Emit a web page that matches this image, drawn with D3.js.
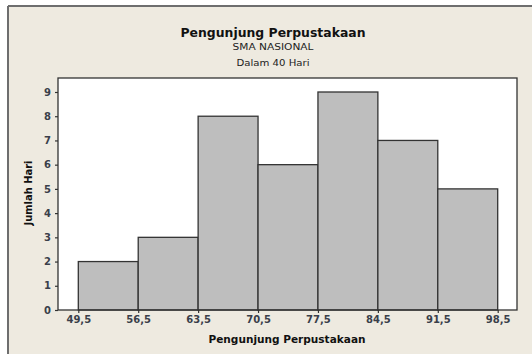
<!DOCTYPE html>
<html><head><meta charset="utf-8">
<script src="https://cdn.jsdelivr.net/npm/d3@7"></script>
<style>body{margin:0;background:#fff}svg{display:block}</style>
</head><body>
<script>
const binEdges = [49.5, 56.5, 63.5, 70.5, 77.5, 84.5, 91.5, 98.5];
const counts = [2, 3, 8, 6, 9, 7, 5];
const yTicks = [0,1,2,3,4,5,6,7,8,9];
const xTickLabels = ["49,5","56,5","63,5","70,5","77,5","84,5","91,5","98,5"];
const title = "Pengunjung Perpustakaan";
const subtitles = ["SMA NASIONAL", "Dalam 40 Hari"];
const xTitle = "Pengunjung Perpustakaan";
const yTitle = "Jumlah Hari";

const W = 532, H = 354;
const svg = d3.select("body").append("svg").attr("width", W).attr("height", H);
const font = "Tahoma, 'DejaVu Sans', Verdana, sans-serif";

// outer panel
svg.append("rect").attr("x",8).attr("y",6).attr("width",W-8).attr("height",H-6).attr("fill","#EEEAE0");
svg.append("line").attr("x1",8).attr("y1",6).attr("x2",W).attr("y2",6).attr("stroke","#6e6e6e").attr("stroke-width",2);
svg.append("line").attr("x1",8).attr("y1",6).attr("x2",8).attr("y2",H).attr("stroke","#6e6e6e").attr("stroke-width",2);

const frame = {l:58, t:78, r:517, b:310};
svg.append("rect").attr("x",frame.l).attr("y",frame.t).attr("width",frame.r-frame.l).attr("height",frame.b-frame.t)
  .attr("fill","#fff");

const x = d3.scaleLinear().domain([49.5, 98.5]).range([78.3, 497.7]);
const y = d3.scaleLinear().domain([0, 9]).range([310, 92]);

const bins = counts.map((c,i)=>({x0:binEdges[i], x1:binEdges[i+1], c}));
svg.append("g").selectAll("rect").data(bins).join("rect")
  .attr("x", d=>x(d.x0)).attr("y", d=>y(d.c))
  .attr("width", d=>x(d.x1)-x(d.x0)).attr("height", d=>y(0)-y(d.c))
  .attr("fill","#BEBEBE").attr("stroke","#333").attr("stroke-width",1.3);

svg.append("rect").attr("x",frame.l).attr("y",frame.t).attr("width",frame.r-frame.l).attr("height",frame.b-frame.t)
  .attr("fill","none").attr("stroke","#333").attr("stroke-width",1.3);

// y axis
const yAxis = svg.append("g").attr("transform",`translate(${frame.l},0)`)
  .call(d3.axisLeft(y).tickValues(yTicks).tickSize(3).tickPadding(4).tickFormat(d3.format("d")));
yAxis.select(".domain").remove();
yAxis.selectAll("line").attr("stroke","#333").attr("stroke-width",1.2);
yAxis.selectAll("text").attr("font-family",font).attr("font-size",10).attr("font-weight","bold").attr("fill","#3a3f4a");

// x axis
const xAxis = svg.append("g").attr("transform",`translate(0,${frame.b})`)
  .call(d3.axisBottom(x).tickValues(binEdges).tickSize(3).tickPadding(3).tickFormat((d,i)=>xTickLabels[i]));
xAxis.select(".domain").remove();
xAxis.selectAll("line").attr("stroke","#333").attr("stroke-width",1.2);
xAxis.selectAll("text").attr("font-family",font).attr("font-size",10).attr("font-weight","bold").attr("fill","#3a3f4a");

// titles
const cx = 273;
svg.append("text").attr("x",cx).attr("y",37).attr("text-anchor","middle").attr("font-family",font)
  .attr("font-size",12).attr("font-weight","bold").attr("fill","#111")
  .attr("textLength",185).attr("lengthAdjust","spacingAndGlyphs").text(title);
svg.append("text").attr("x",cx).attr("y",50).attr("text-anchor","middle").attr("font-family",font)
  .attr("font-size",9.5).attr("fill","#222").attr("textLength",81).attr("lengthAdjust","spacingAndGlyphs").text(subtitles[0]);
svg.append("text").attr("x",cx).attr("y",66).attr("text-anchor","middle").attr("font-family",font)
  .attr("font-size",9.5).attr("fill","#222").attr("textLength",73).attr("lengthAdjust","spacingAndGlyphs").text(subtitles[1]);

svg.append("text").attr("x",287).attr("y",343).attr("text-anchor","middle").attr("font-family",font)
  .attr("font-size",10.5).attr("font-weight","bold").attr("fill","#111")
  .attr("textLength",157).attr("lengthAdjust","spacingAndGlyphs").text(xTitle);
svg.append("text").attr("transform","translate(32,193) rotate(-90)").attr("text-anchor","middle").attr("font-family",font)
  .attr("font-size",10.5).attr("font-weight","bold").attr("fill","#111")
  .attr("textLength",65).attr("lengthAdjust","spacingAndGlyphs").text(yTitle);
</script>
</body></html>
